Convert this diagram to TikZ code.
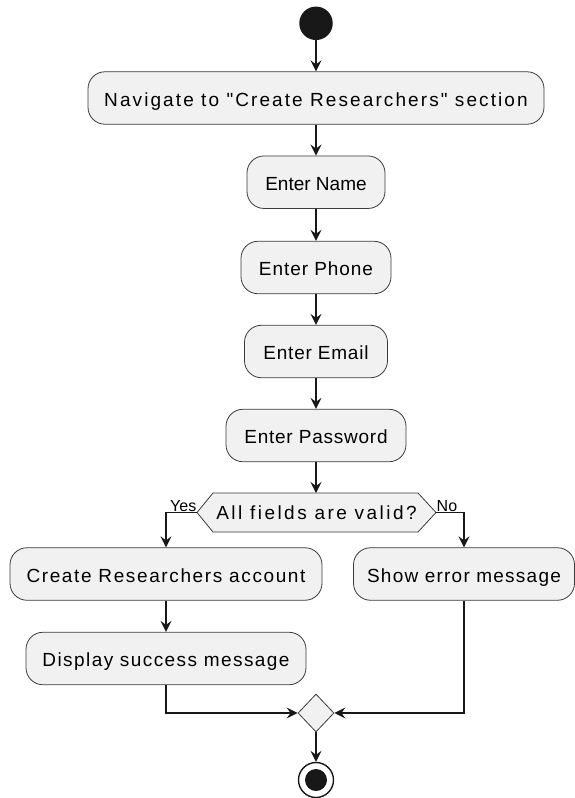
\documentclass[tikz,border=0pt]{standalone}
\usepackage{fontspec}
\setmainfont{Liberation Sans}[Ligatures=TeXOff]
\usetikzlibrary{arrows.meta,shapes.geometric}
\definecolor{boxfill}{HTML}{F1F1F1}
\definecolor{ink}{HTML}{181818}
\newcommand{\ls}[1]{\addfontfeature{LetterSpace=#1}}
\begin{document}
\begin{tikzpicture}[x=1pt,y=-1pt,
  action/.style={draw=ink!85, line width=0.8pt, fill=boxfill, rounded corners=17pt,
    minimum height=52.5pt, inner sep=0pt, text height=18pt, text depth=2pt,
    font=\fontsize{19}{22}\selectfont, text=black},
  flow/.style={draw=ink, line width=1.4pt, -{Stealth[length=11pt,width=11pt,inset=4pt]}},
  branch/.style={font=\fontsize{16}{18}\selectfont, inner sep=0.5pt}]
\useasboundingbox (0,0) rectangle (574,798);

% start and end markers
\node[circle, fill=ink, minimum size=33.5pt, inner sep=0pt] (start) at (316,23.3) {};
\node[circle, draw=ink, line width=1.4pt, fill=white, minimum size=35pt, inner sep=0pt] (stop) at (316,780) {};
\node[circle, fill=ink, minimum size=22pt, inner sep=0pt] (stopdot) at (316,780) {};

% main column of actions
\node[action, minimum width=456pt] (nav) at (316,98) {\ls{11}Navigate to "Create Researchers" section};
\node[action, minimum width=138pt] (name) at (316,182.2) {Enter Name};
\node[action, minimum width=150pt] (phone) at (316,267.5) {\ls{5}Enter Phone};
\node[action, minimum width=143pt] (email) at (316,351.5) {\ls{4}Enter Email};
\node[action, minimum width=180pt] (pass) at (316,435.5) {\ls{4}Enter Password};

% decision
\coordinate (dc) at (316.5,512.5);
\draw[draw=ink!85, line width=0.8pt, fill=boxfill]
  (197,512.5) -- (213,493) -- (418,493) -- (436,512.5) -- (418,532) -- (213,532) -- cycle;
\node[font=\fontsize{19}{22}\selectfont, inner sep=0pt, text height=17pt, text depth=4pt] (dec) at (dc) {\ls{13}All fields are valid?};
\coordinate (decL) at (197,512.5);
\coordinate (decR) at (436,512.5);

% branches
\node[action, minimum width=312pt] (create) at (166,574) {\ls{8.5}Create Researchers account};
\node[action, minimum width=221pt] (show) at (464,574) {\ls{6.5}Show error message};
\node[action, minimum width=280pt] (disp) at (166,658.5) {\ls{7.5}Display success message};

% merge
\node[diamond, draw=ink!85, line width=0.8pt, fill=boxfill, minimum width=36pt, minimum height=38pt,
  inner sep=0pt, aspect=0.95] (merge) at (316,713) {};

% connectors
\draw[flow] (start) -- (nav);
\draw[flow] (nav) -- (name);
\draw[flow] (name) -- (phone);
\draw[flow] (phone) -- (email);
\draw[flow] (email) -- (pass);
\draw[flow] (pass.south) -- (316,493);
\draw[flow] (decL) -| (create.north);
\draw[flow] (decR) -| (show.north);
\node[branch, anchor=south east] (yes) at (decL) {Yes};
\node[branch, anchor=south west] (no) at (decR) {No};
\draw[flow] (create) -- (disp);
\draw[flow] (disp.south) |- (merge.west);
\draw[flow] (show.south) |- (merge.east);
\draw[flow] (merge) -- (stop);
\end{tikzpicture}
\end{document}
